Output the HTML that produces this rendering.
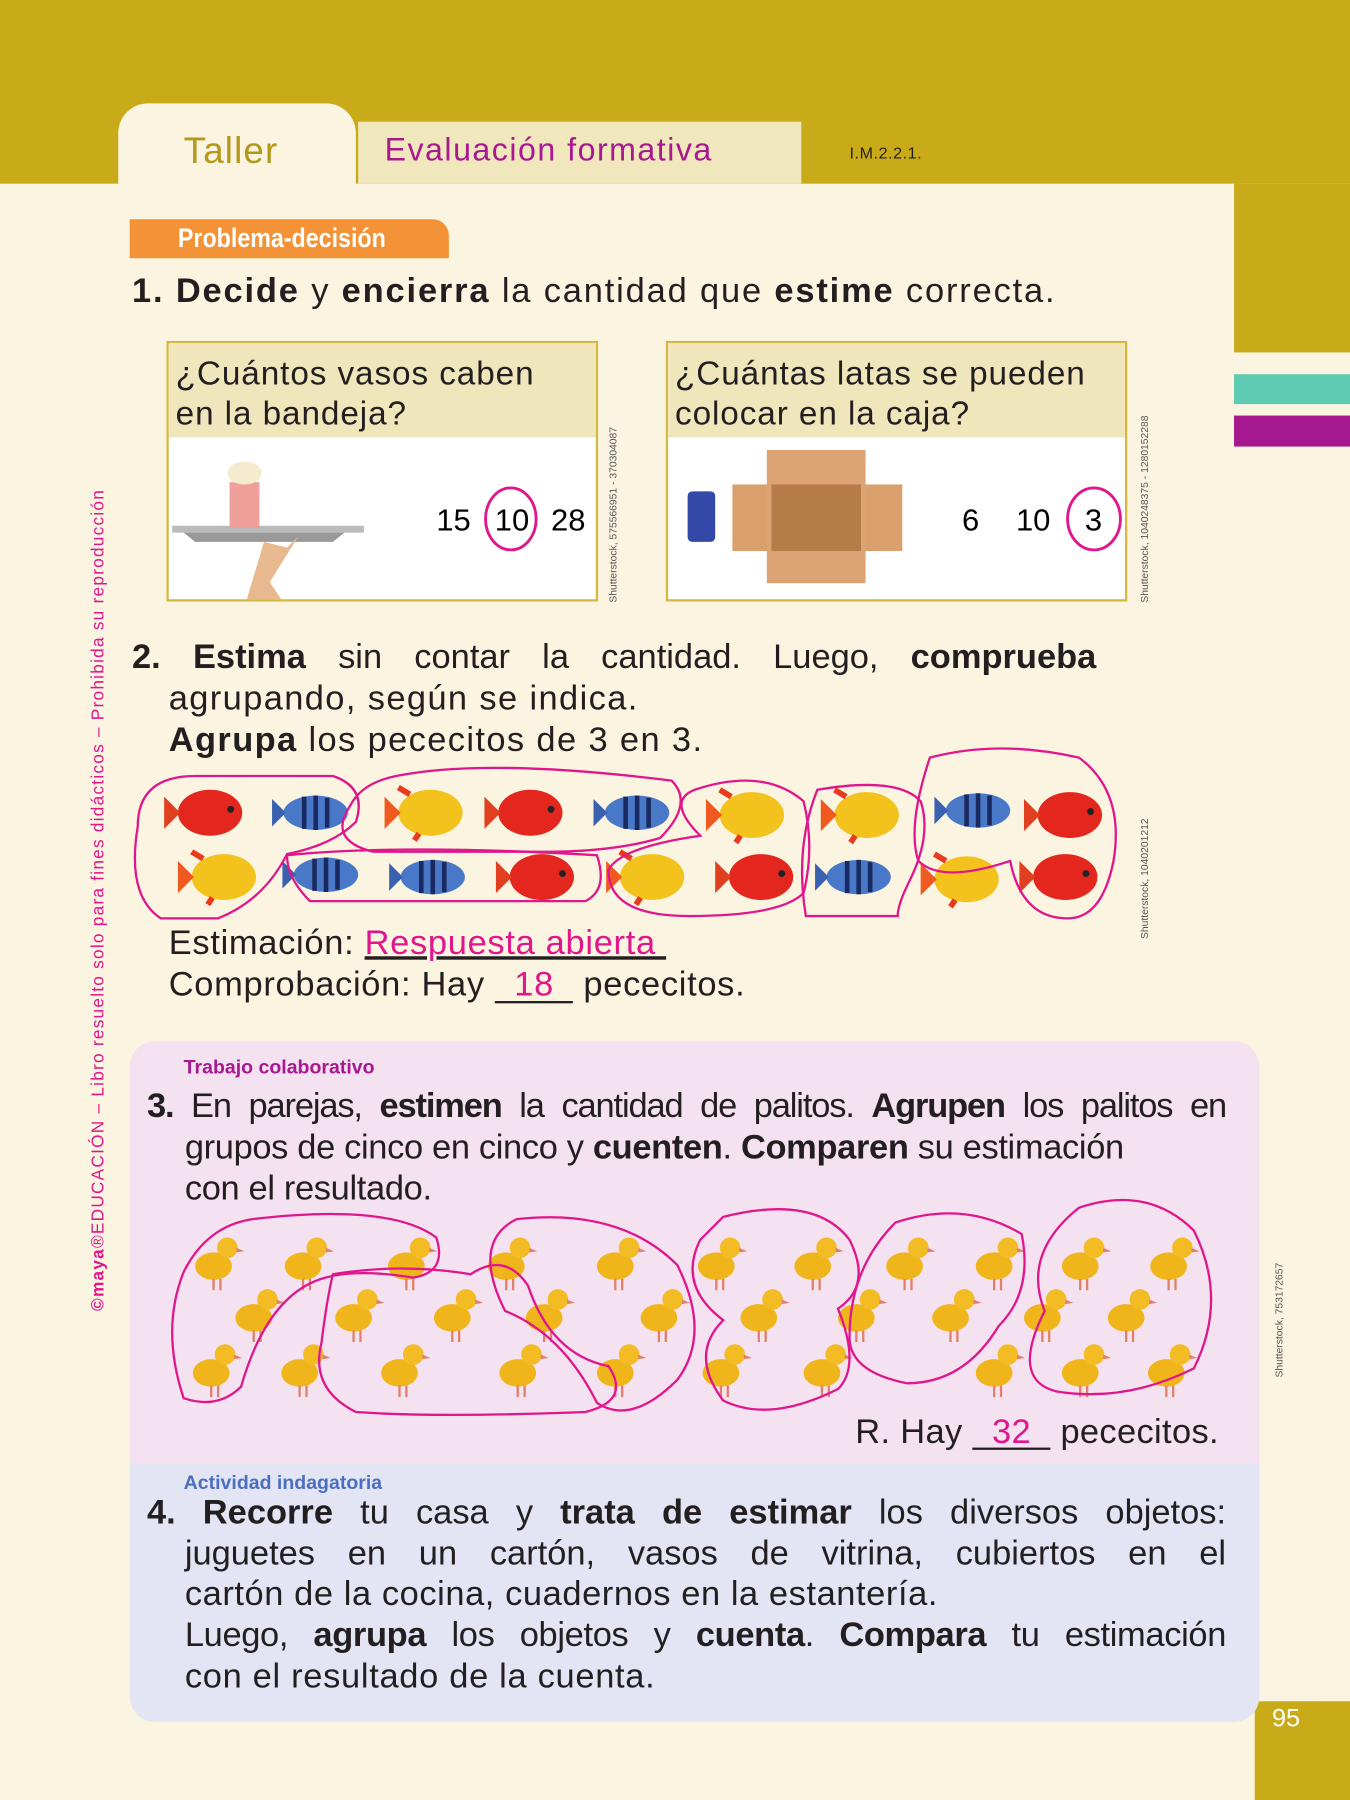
<!DOCTYPE html>
<html><head><meta charset="utf-8"><style>
html,body{margin:0;padding:0;width:1350px;height:1800px;overflow:hidden;background:#faf4e1}
#w{position:absolute;left:0;top:0;width:1176px;height:1568px;transform:scale(1.14796);transform-origin:0 0;font-family:"Liberation Sans",sans-serif;color:#231f20}
.a{position:absolute;white-space:nowrap}
b{font-weight:bold}
.q{font-size:30px;line-height:36px}
.j{white-space:normal;text-align:justify;text-align-last:justify}
.mg{color:#e0168c}
</style></head><body><div id="w">
<div class="a" style="left:0;top:0;width:1176px;height:160px;background:#c9aa19"></div>
<div class="a" style="left:1075px;top:160px;width:101px;height:147px;background:#c9aa19"></div>
<div class="a" style="left:1075px;top:326px;width:101px;height:26px;background:#60cbb3"></div>
<div class="a" style="left:1075px;top:362px;width:101px;height:27px;background:#a5188f"></div>
<div class="a" style="left:1093px;top:1482px;width:83px;height:86px;background:#c9aa19"></div>
<div class="a" style="left:1108px;top:1484px;font-size:22px;color:#fff">95</div>

<div class="a" style="left:103px;top:90px;width:207px;height:72px;background:#faf4e1;border-radius:26px 26px 0 0"></div>
<div class="a" style="left:160px;top:113px;font-size:32px;color:#b5971a;letter-spacing:1px">Taller</div>
<div class="a" style="left:312px;top:106px;width:386px;height:54px;background:#f1e7bd"></div>
<div class="a" style="left:335px;top:115px;font-size:28px;color:#a8188f;letter-spacing:1.3px">Evaluación formativa</div>
<div class="a" style="left:740px;top:125px;font-size:14px;letter-spacing:.5px">I.M.2.2.1.</div>

<div class="a" style="left:113px;top:191px;width:278px;height:34px;background:#f39237;border-radius:0 14px 0 0"></div>
<div class="a" style="left:155px;top:194px;font-size:23px;color:#fff;font-weight:bold;transform:scaleX(.88);transform-origin:0 0">Problema-decisión</div>
<div class="a q" style="left:115px;top:236px;letter-spacing:1.6px"><b>1.</b> <b>Decide</b> y <b>encierra</b> la cantidad que <b>estime</b> correcta.</div>

<div class="a" style="left:145px;top:297px;width:372px;height:223px;border:2px solid #d4b840;background:#fff"></div>
<div class="a" style="left:147px;top:299px;width:372px;height:82px;background:#f0e6bb"></div>
<div class="a" style="left:153px;top:309px;font-size:29px;line-height:35px;letter-spacing:.8px">¿Cuántos vasos caben<br>en la bandeja?</div>
<div class="a" style="left:580px;top:297px;width:398px;height:223px;border:2px solid #d4b840;background:#fff"></div>
<div class="a" style="left:582px;top:299px;width:398px;height:82px;background:#f0e6bb"></div>
<div class="a" style="left:588px;top:309px;font-size:29px;line-height:35px;letter-spacing:.8px">¿Cuántas latas se pueden<br>colocar en la caja?</div>
<svg class="a" style="left:0;top:0" width="1176" height="1568">
<rect x="150" y="458" width="167" height="6" fill="#bbb"/><path d="M160 464h140l-10 8h-120z" fill="#999"/>
<rect x="200" y="420" width="26" height="40" fill="#f0a09a"/><ellipse cx="213" cy="412" rx="15" ry="10" fill="#f5ecd0"/>
<path d="M230 472l20 5 10-10-25 40 10 15-30 0z" fill="#e8b98e"/>
<rect x="599" y="428" width="24" height="44" rx="4" fill="#3448a8"/>
<rect x="638" y="422" width="148" height="58" fill="#d9a06e"/><rect x="668" y="392" width="86" height="116" fill="#dca374"/><rect x="672" y="422" width="78" height="58" fill="#b47c48"/>
<text x="380" y="462" font-size="27">15</text><text x="431" y="462" font-size="27">10</text><text x="480" y="462" font-size="27">28</text>
<ellipse cx="445" cy="452" rx="22" ry="27" fill="none" stroke="#e0168c" stroke-width="2.5"/>
<text x="838" y="462" font-size="27">6</text><text x="885" y="462" font-size="27">10</text><text x="945" y="462" font-size="27">3</text>
<ellipse cx="953" cy="452" rx="23" ry="27" fill="none" stroke="#e0168c" stroke-width="2.5"/>
<g font-size="9" fill="#555"><text transform="translate(537,525) rotate(-90)">Shutterstock, 575566951 - 370304087</text>
<text transform="translate(1000,525) rotate(-90)">Shutterstock, 1040248375 - 1280152288</text>
<text transform="translate(1000,818) rotate(-90)">Shutterstock, 1040201212</text>
<text transform="translate(1117,1200) rotate(-90)">Shutterstock, 753172657</text></g>
<text transform="translate(90,1142) rotate(-90)" font-size="15" fill="#e0168c" textLength="715" lengthAdjust="spacing"><tspan font-weight="bold">©maya</tspan>®EDUCACIÓN – Libro resuelto solo para fines didácticos – Prohibida su reproducción</text>
</svg>

<div class="a q j" style="left:115px;top:555px;width:840px"><b>2.</b> <b>Estima</b> sin contar la cantidad. Luego, <b>comprueba</b></div>
<div class="a q" style="left:147px;top:591px;letter-spacing:1.2px">agrupando, según se indica.</div>
<div class="a q" style="left:147px;top:627px;letter-spacing:1.2px"><b>Agrupa</b> los pececitos de 3 en 3.</div>

<svg class="a" style="left:0;top:0" width="1176" height="1568">
<defs>
<g id="fr"><ellipse cx="0" cy="0" rx="28" ry="20" fill="#e3261e"/><path d="M-26 0l-14-14v28z" fill="#e04020"/><circle cx="18" cy="-3" r="3" fill="#222"/></g>
<g id="fb"><ellipse cx="0" cy="0" rx="28" ry="15" fill="#4a78c8"/><path d="M-10-14v28M0-15v30M10-13v26" stroke="#1a2a60" stroke-width="4"/><path d="M-26 0l-12-12v24z" fill="#3a60b0"/></g>
<g id="fy"><ellipse cx="0" cy="0" rx="28" ry="20" fill="#f4c21c"/><path d="M-26 0l-14-14v28z" fill="#f05a20"/><path d="M-18-16l-10-6M-10 18l-4 6" stroke="#e83a1c" stroke-width="5"/></g>
<g id="d"><ellipse cx="-4" cy="6" rx="16" ry="12" fill="#f1b51c"/><circle cx="8" cy="-10" r="9" fill="#f3bb24"/><path d="M16-10l7 3-7 1z" fill="#e0806a"/><path d="M-4 17v10M2 17v10" stroke="#e0806a" stroke-width="2"/></g>
</defs>
<use href="#fr" x="183" y="708"/><use href="#fb" x="275" y="708"/><use href="#fy" x="375" y="708"/><use href="#fr" x="462" y="708"/><use href="#fb" x="555" y="708"/><use href="#fy" x="655" y="710"/><use href="#fy" x="755" y="710"/><use href="#fb" x="852" y="706"/><use href="#fr" x="932" y="710"/>
<use href="#fy" x="195" y="764"/><use href="#fb" x="284" y="762"/><use href="#fb" x="377" y="764"/><use href="#fr" x="472" y="764"/><use href="#fy" x="568" y="764"/><use href="#fr" x="663" y="764"/><use href="#fb" x="748" y="764"/><use href="#fy" x="842" y="766"/><use href="#fr" x="928" y="764"/>
<g fill="none" stroke="#e0168c" stroke-width="2">
<path d="M170 676h120q30 10 20 40q-20 20-60 28q-20 40-60 56h-50q-30-20-20-80q0-44 50-44z"/>
<path d="M345 676q80-16 240 4q20 20-10 50q-40 12-100 12h-150q-40-10-20-40q10-20 40-26z"/>
<path d="M250 745q100-10 270 0q10 30-10 40h-240q-20-20-20-40z"/>
<path d="M605 688q60-20 95 10q10 40 0 80q-20 20-100 20q-70 0-70-40q10-20 80-30q-30-30-5-40z"/>
<path d="M712 688q70-12 90 10q10 30-10 70q-10 20-10 30h-80q-10-60 10-110z"/>
<path d="M810 660q60-16 130 0q40 30 30 90q-10 50-40 50q-40 0-50-50q-60 20-80 0q-10-30 10-90z"/>
</g>
</svg>
<div class="a q" style="left:147px;top:804px;letter-spacing:.6px">Estimación: <span class="mg" style="text-decoration:underline;text-decoration-color:#231f20">Respuesta abierta&nbsp;</span></div>
<div class="a q" style="left:147px;top:840px;letter-spacing:.6px">Comprobación: Hay <span style="display:inline-block;width:68px;border-bottom:2px solid #231f20;text-align:center;line-height:28px" class="mg">18</span> pececitos.</div>

<div class="a" style="left:113px;top:907px;width:984px;height:368px;background:#f5e2f1;border-radius:22px 22px 0 0"></div>
<div class="a" style="left:113px;top:1275px;width:984px;height:225px;background:#e3e4f4;border-radius:0 0 22px 22px"></div>
<div class="a" style="left:160px;top:920px;font-size:17px;font-weight:bold;color:#a8188f">Trabajo colaborativo</div>
<div class="a q j" style="left:128px;top:946px;width:940px;letter-spacing:-1px"><b>3.</b> En parejas, <b>estimen</b> la cantidad de palitos. <b>Agrupen</b> los palitos en</div>
<div class="a q" style="left:161px;top:982px;letter-spacing:-0.3px">grupos de cinco en cinco y <b>cuenten</b>. <b>Comparen</b> su estimación</div>
<div class="a q" style="left:161px;top:1018px;letter-spacing:-0.3px">con el resultado.</div>
<svg class="a" style="left:0;top:0" width="1176" height="1568">
<g>
<use href="#d" x="190" y="1097"/><use href="#d" x="268" y="1097"/><use href="#d" x="358" y="1097"/><use href="#d" x="445" y="1097"/><use href="#d" x="540" y="1097"/><use href="#d" x="628" y="1097"/><use href="#d" x="712" y="1097"/><use href="#d" x="792" y="1097"/><use href="#d" x="870" y="1097"/><use href="#d" x="945" y="1097"/><use href="#d" x="1022" y="1097"/>
<use href="#d" x="225" y="1142"/><use href="#d" x="312" y="1142"/><use href="#d" x="398" y="1142"/><use href="#d" x="478" y="1142"/><use href="#d" x="578" y="1142"/><use href="#d" x="665" y="1142"/><use href="#d" x="750" y="1142"/><use href="#d" x="832" y="1142"/><use href="#d" x="912" y="1142"/><use href="#d" x="985" y="1142"/>
<use href="#d" x="188" y="1190"/><use href="#d" x="265" y="1190"/><use href="#d" x="352" y="1190"/><use href="#d" x="455" y="1190"/><use href="#d" x="540" y="1190"/><use href="#d" x="632" y="1190"/><use href="#d" x="720" y="1190"/><use href="#d" x="870" y="1190"/><use href="#d" x="945" y="1190"/><use href="#d" x="1020" y="1190"/>
</g>
<g fill="none" stroke="#e0168c" stroke-width="2">
<path d="M220 1062q120-14 160 16q10 30-20 35q-60-10-90 5q-40 20-60 90q-20 20-50 10q-20-60 0-110q20-40 60-46z"/>
<path d="M290 1110q60-10 120 0q30-20 50 10q20 60 70 70q20 30-20 40q-130 5-200 0q-40-20-30-60q5-40 10-60z"/>
<path d="M450 1062q90-10 140 40q30 60 0 100q-40 40-70 20q-30-60-80-80q-30-60 10-80z"/>
<path d="M630 1060q80-20 110 20q20 40-10 60q20 50 0 70q-60 30-100 10q-30-40 0-70q-40-30-20-70z"/>
<path d="M780 1065q60-20 110 10q10 50-20 80q-30 50-80 50q-50-10-50-40q0-60 40-100z"/>
<path d="M940 1052q60-20 100 20q30 60 0 120q-60 30-120 20q-40-10-10-70q-20-50 30-90z"/>
</g>
</svg>
<div class="a q" style="left:745px;top:1230px;letter-spacing:.3px">R. Hay <span style="display:inline-block;width:68px;border-bottom:2px solid #231f20;text-align:center;line-height:26px" class="mg">32</span> pececitos.</div>

<div class="a" style="left:160px;top:1282px;font-size:17px;font-weight:bold;color:#4a6fc0">Actividad indagatoria</div>
<div class="a q j" style="left:128px;top:1300px;width:940px"><b>4.</b> <b>Recorre</b> tu casa y <b>trata de estimar</b> los diversos objetos:</div>
<div class="a q j" style="left:161px;top:1336px;width:907px">juguetes en un cartón, vasos de vitrina, cubiertos en el</div>
<div class="a q" style="left:161px;top:1371px;letter-spacing:.5px">cartón de la cocina, cuadernos en la estantería.</div>
<div class="a q j" style="left:161px;top:1407px;width:907px;letter-spacing:-.3px">Luego, <b>agrupa</b> los objetos y <b>cuenta</b>. <b>Compara</b> tu estimación</div>
<div class="a q" style="left:161px;top:1443px;letter-spacing:.6px">con el resultado de la cuenta.</div>
</div></body></html>
